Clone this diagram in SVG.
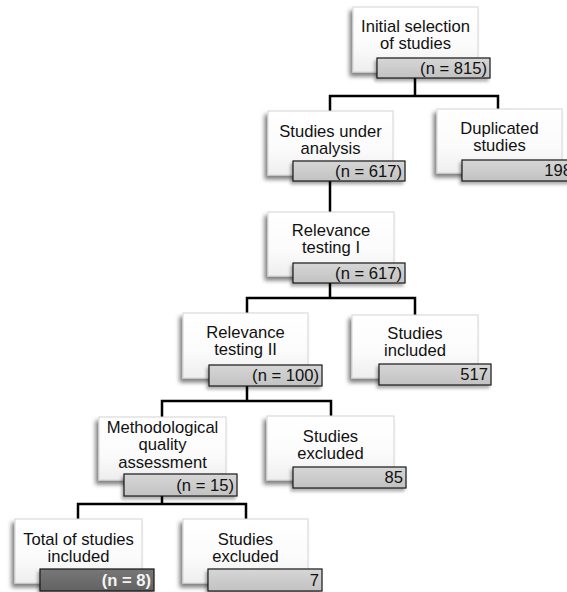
<svg xmlns="http://www.w3.org/2000/svg" width="567" height="592" viewBox="0 0 567 592">
<style>
  .box { fill: url(#boxGrad); stroke: #d4d4d4; stroke-width: 1; filter: url(#shadow); }
  .bar { fill: url(#barGrad); stroke: #1a1a1a; stroke-width: 1.2; filter: url(#shadowSmall); }
  .bar.dark { fill: url(#darkGrad); }
  .t { font-family: "Liberation Sans", Arial, sans-serif; font-size: 16.6px; fill: #111; text-anchor: middle; }
  .n { font-family: "Liberation Sans", Arial, sans-serif; font-size: 16.6px; fill: #111; text-anchor: end; }
  .n.light { fill: #f4f4f4; font-weight: bold; }
  .conn { fill: none; stroke: #000; stroke-width: 2.5; stroke-linejoin: miter; stroke-linecap: square; }
</style>
<defs>
  <linearGradient id="boxGrad" x1="0" y1="0" x2="0" y2="1">
    <stop offset="0" stop-color="#ffffff"/>
    <stop offset="0.6" stop-color="#fbfbfb"/>
    <stop offset="1" stop-color="#eeeeee"/>
  </linearGradient>
  <linearGradient id="barGrad" x1="0" y1="0" x2="0" y2="1">
    <stop offset="0" stop-color="#d6d6d6"/>
    <stop offset="1" stop-color="#c2c2c2"/>
  </linearGradient>
  <linearGradient id="darkGrad" x1="0" y1="0" x2="0" y2="1">
    <stop offset="0" stop-color="#777777"/>
    <stop offset="1" stop-color="#626262"/>
  </linearGradient>
  <filter id="shadow" x="-20%" y="-20%" width="140%" height="150%">
    <feDropShadow dx="-3" dy="4" stdDeviation="2.2" flood-color="#000" flood-opacity="0.5"/>
  </filter>
  <filter id="shadowSmall" x="-20%" y="-30%" width="140%" height="180%">
    <feDropShadow dx="-2" dy="3" stdDeviation="1.8" flood-color="#000" flood-opacity="0.3"/>
  </filter>
</defs>

<g id="connectors">
  <path class="conn" d="M415,78 V96 M330,96 H498 M330,96 V110 M498,96 V109"/>
  <path class="conn" d="M330,181 V212"/>
  <path class="conn" d="M330,283 V298 M247,298 H415 M247,298 V313 M415,298 V315"/>
  <path class="conn" d="M247,386 V401 M162,401 H331 M162,401 V417 M331,401 V416"/>
  <path class="conn" d="M162,496 V504 M78,504 H246 M78,504 V519 M246,504 V519"/>
</g>

<g id="initial-selection">
  <rect class="box" x="353" y="7" width="125" height="65"/>
  <text class="t" x="415.5" y="31.5">Initial selection</text>
  <text class="t" x="415.5" y="49">of studies</text>
  <rect class="bar" x="377" y="58" width="113" height="20"/>
  <text class="n" x="487" y="74">(n = 815)</text>
</g>

<g id="studies-under-analysis">
  <rect class="box" x="268" y="111" width="125" height="64"/>
  <text class="t" x="330.5" y="136.5">Studies under</text>
  <text class="t" x="330.5" y="154">analysis</text>
  <rect class="bar" x="293" y="161" width="112" height="20"/>
  <text class="n" x="402" y="177">(n = 617)</text>
</g>

<g id="duplicated-studies">
  <rect class="box" x="437" y="109" width="125" height="64"/>
  <text class="t" x="499.5" y="133.5">Duplicated</text>
  <text class="t" x="499.5" y="151">studies</text>
  <rect class="bar" x="462" y="160" width="113" height="21"/>
  <text class="n" x="572" y="176">198</text>
</g>

<g id="relevance-testing-1">
  <rect class="box" x="268" y="212" width="126" height="64"/>
  <text class="t" x="331" y="235.5">Relevance</text>
  <text class="t" x="331" y="253">testing I</text>
  <rect class="bar" x="293" y="263" width="112" height="20"/>
  <text class="n" x="402" y="279">(n = 617)</text>
</g>

<g id="relevance-testing-2">
  <rect class="box" x="183" y="313" width="125" height="65"/>
  <text class="t" x="245.5" y="337.5">Relevance</text>
  <text class="t" x="245.5" y="355">testing II</text>
  <rect class="bar" x="209" y="365" width="113" height="21"/>
  <text class="n" x="319" y="381">(n = 100)</text>
</g>

<g id="studies-included">
  <rect class="box" x="352" y="315" width="126" height="63"/>
  <text class="t" x="415" y="338.5">Studies</text>
  <text class="t" x="415" y="356">included</text>
  <rect class="bar" x="379" y="364" width="112" height="21"/>
  <text class="n" x="488" y="380">517</text>
</g>

<g id="methodological-quality">
  <rect class="box" x="99" y="417" width="127" height="63"/>
  <text class="t" x="162.5" y="432.5">Methodological</text>
  <text class="t" x="162.5" y="450">quality</text>
  <text class="t" x="162.5" y="467.5">assessment</text>
  <rect class="bar" x="124" y="474" width="113" height="22"/>
  <text class="n" x="234" y="491">(n = 15)</text>
</g>

<g id="studies-excluded-85">
  <rect class="box" x="267" y="416" width="127" height="64"/>
  <text class="t" x="330.5" y="441.5">Studies</text>
  <text class="t" x="330.5" y="459">excluded</text>
  <rect class="bar" x="293" y="467" width="113" height="21"/>
  <text class="n" x="403" y="483">85</text>
</g>

<g id="total-included">
  <rect class="box" x="15" y="519" width="127" height="64"/>
  <text class="t" x="78.5" y="544.5">Total of studies</text>
  <text class="t" x="78.5" y="562">included</text>
  <rect class="bar dark" x="40" y="569" width="114" height="22"/>
  <text class="n light" x="151" y="586">(n = 8)</text>
</g>

<g id="studies-excluded-7">
  <rect class="box" x="183" y="519" width="125" height="64"/>
  <text class="t" x="245.5" y="544.5">Studies</text>
  <text class="t" x="245.5" y="562">excluded</text>
  <rect class="bar" x="208" y="569" width="114" height="22"/>
  <text class="n" x="319" y="586">7</text>
</g>
</svg>
